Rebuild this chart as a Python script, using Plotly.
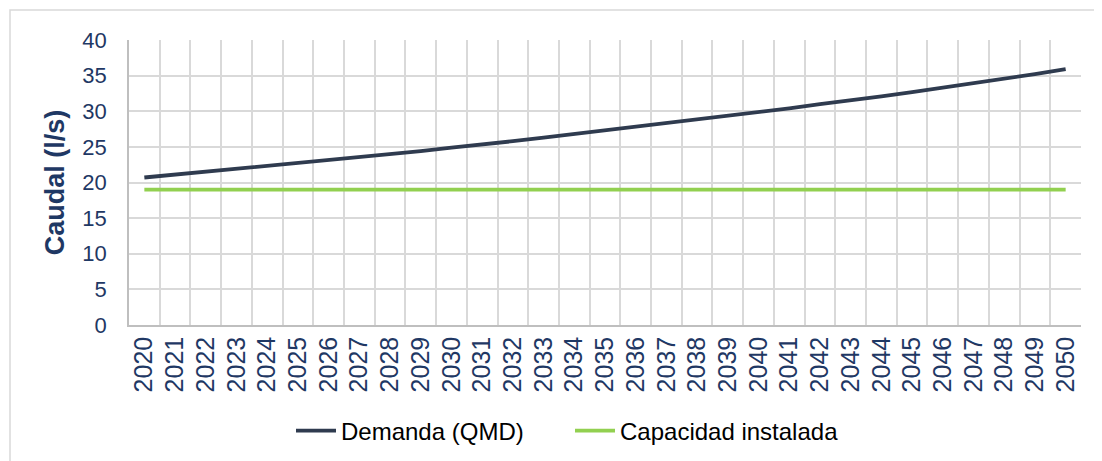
import plotly.graph_objects as go

years = [str(y) for y in range(2020, 2051)]
demanda = [20.7, 21.1, 21.5, 21.9, 22.3, 22.7, 23.1, 23.5, 24.0, 24.4, 24.9,
           25.3, 25.8, 26.3, 26.8, 27.3, 27.8, 28.3, 28.8, 29.3, 29.9,
           30.4, 31.0, 31.5, 32.1, 32.7, 33.3, 33.9, 34.6, 35.2, 35.9]
capacidad = [19.0] * len(years)

y_ticks = [0, 5, 10, 15, 20, 25, 30, 35, 40]

navy = "#1f3864"
font_family = "Liberation Sans, Arial, sans-serif"

fig = go.Figure()
fig.add_trace(go.Scatter(x=years, y=demanda, mode="lines", name="Demanda (QMD)",
                         line=dict(color="#2f3b4f", width=3.8)))
fig.add_trace(go.Scatter(x=years, y=capacidad, mode="lines", name="Capacidad instalada",
                         line=dict(color="#92d050", width=3.8)))

OFF = 8  # browser default body margin
L, R, T, B = 129 - OFF, 21, 40 - OFF, 136
W, H = 1102 - OFF, 461 - OFF
pw, ph = W - L - R, H - T - B

fig.update_layout(
    width=W, height=H,
    margin=dict(l=L, r=R, t=T, b=B, pad=0, autoexpand=False),
    paper_bgcolor="white", plot_bgcolor="white",
    font=dict(family=font_family, color=navy),
    showlegend=True,
    legend=dict(orientation="h", xref="container", yref="container",
                x=(570 - OFF) / W, xanchor="center",
                y=(H - (431 - OFF)) / H, yanchor="middle",
                font=dict(size=24, color="black", family=font_family),
                itemwidth=40, entrywidth=224, tracegroupgap=0,
                bgcolor="rgba(0,0,0,0)"),
    xaxis=dict(type="category", tickson="boundaries", showgrid=True,
               gridcolor="#d9d9d9", gridwidth=1.5,
               showline=True, linecolor="#bfbfbf", linewidth=1.5,
               tickmode="array", tickvals=years, ticktext=years,
               tickangle=-90, tickfont=dict(size=25, color=navy),
               ticks="outside", ticklen=12, tickcolor="rgba(0,0,0,0)",
               range=[-0.5, len(years) - 0.5], fixedrange=True),
    yaxis=dict(range=[0, 40], tickvals=y_ticks, showgrid=True,
               gridcolor="#d9d9d9", gridwidth=1.5, zeroline=False,
               showline=True, linecolor="#bfbfbf", linewidth=1.5,
               tickfont=dict(size=22, color=navy),
               ticks="outside", ticklen=16, tickcolor="rgba(0,0,0,0)",
               title=dict(text="<b>Caudal (l/s)</b>", font=dict(size=27, color=navy),
                          standoff=10)),
    shapes=[dict(type="rect", xref="paper", yref="paper",
                 x0=(10 - OFF - L) / pw, x1=(W + 60 - L) / pw,
                 y0=(T + ph - (H + 60)) / ph, y1=1 + (T - (10 - OFF)) / ph,
                 line=dict(color="#d9d9d9", width=1.5), layer="below")],
)

fig.write_html("out.html")
